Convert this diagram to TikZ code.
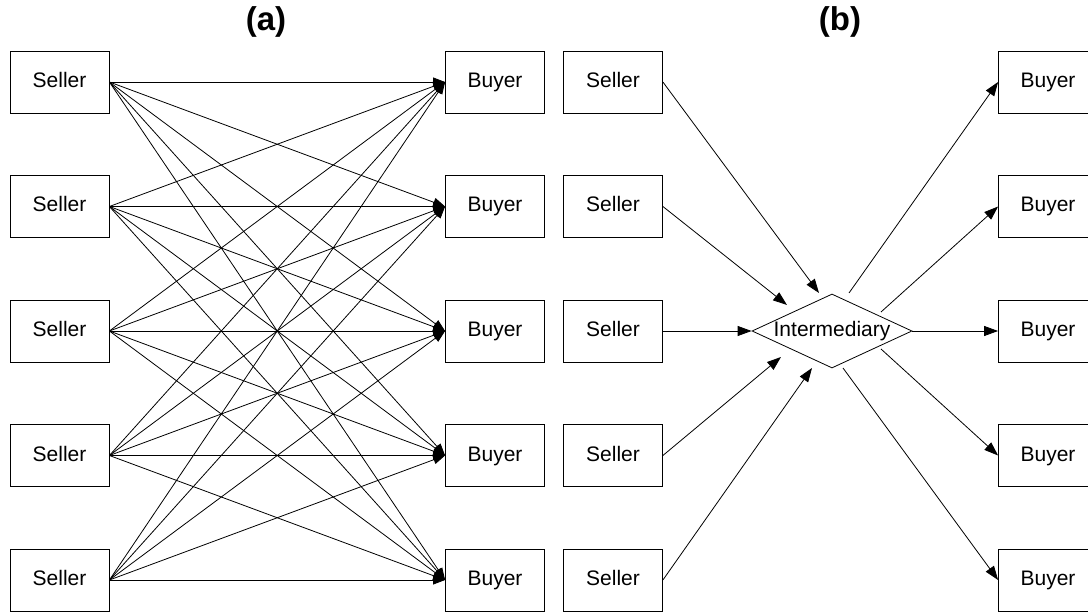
\documentclass[tikz,border=0pt]{standalone}
\usepackage{fontspec}
\setmainfont{Liberation Sans}
\usetikzlibrary{shapes.geometric,arrows.meta}

\begin{document}
\begin{tikzpicture}[x=1pt, y=-1pt, line width=0.8pt,
  font=\fontsize{21}{25}\selectfont,
  party/.style = {shape=rectangle, draw, minimum width=99pt, minimum height=62pt, inner sep=0pt,
    text height=15pt, text depth=4pt},
  hub/.style = {shape=diamond, draw, minimum width=160pt, minimum height=74pt, inner sep=0pt},
  deal/.style = {-{Triangle[length=12pt, width=9pt]}},
  via/.style = {-{Triangle[length=14pt, width=10pt]}},
  title/.style = {font=\fontsize{33}{40}\selectfont\bfseries}]
  \useasboundingbox (0,0) rectangle (1088,612);
  \node[title] (ta) at (266,22) {(a)};
  \node[title] (tb) at (840,22) {(b)};
  \foreach \i/\y in {1/82, 2/206.5, 3/331, 4/455.5, 5/580} {
    \node[party] (sa\i) at (59.5,\y) {Seller};
    \node[party] (ba\i) at (495,\y) {Buyer};
    \node[party] (sb\i) at (613,\y) {Seller};
    \node[party] (bb\i) at (1048,\y) {Buyer};
  }
  \node[hub] (inter) at (832,331) {\makebox[0pt]{Intermediary}};
  % (a): every seller trades with every buyer
  \foreach \i in {1,...,5}
    \foreach \j in {1,...,5}
      \draw[deal] (sa\i.east) -- (ba\j.west);
  % (b): ports on the intermediary
  \foreach \n/\dx/\dy in {1/-13/-38, 2/-45/-26, 4/-51/26, 5/-20/37}
    \coordinate (in\n) at ([shift={(\dx,\dy)}]inter.center);
  \coordinate (in3) at (inter.west);
  \foreach \n/\dx/\dy in {1/17/-38, 2/49/-19, 4/49/18, 5/11/37}
    \coordinate (out\n) at ([shift={(\dx,\dy)}]inter.center);
  \coordinate (out3) at (inter.east);
  \foreach \i in {1,...,5} {
    \draw[via] (sb\i.east) -- (in\i);
    \draw[via] (out\i) -- (bb\i.west);
  }
\end{tikzpicture}
\end{document}
